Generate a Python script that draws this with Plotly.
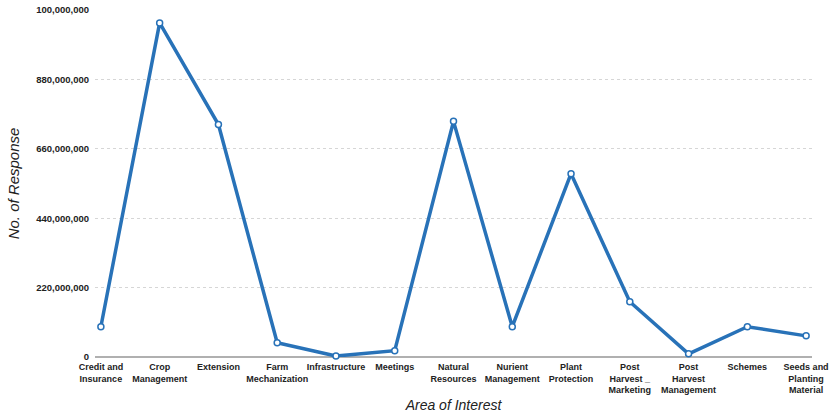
import plotly.graph_objects as go

categories = [
    "Credit and<br>Insurance", "Crop<br>Management", "Extension", "Farm<br>Mechanization",
    "Infrastructure", "Meetings", "Natural<br>Resources", "Nurient<br>Management",
    "Plant<br>Protection", "Post<br>Harvest _<br>Marketing", "Post<br>Harvest<br>Management",
    "Schemes", "Seeds and<br>Planting<br>Material",
]
responses = [96e6, 1059e6, 737e6, 45e6, 3e6, 20e6, 747e6, 96e6, 581e6, 175e6, 10e6, 96e6, 67e6]
tick_values = [0, 220e6, 440e6, 660e6, 880e6, 1100e6]
tick_labels = ["0", "220,000,000", "440,000,000", "660,000,000", "880,000,000", "100,000,000"]

x_idx = list(range(len(categories)))

fig = go.Figure(go.Scatter(
    x=x_idx, y=responses, mode="lines+markers",
    line=dict(color="#2872b8", width=3.5),
    marker=dict(size=6, color="white", line=dict(color="#2872b8", width=1.5)),
    cliponaxis=False,
))

fig.update_layout(
    width=834, height=417,
    margin=dict(l=95, r=22, t=10, b=60),
    paper_bgcolor="white", plot_bgcolor="white",
    showlegend=False,
    font=dict(family="Liberation Sans, Arial, sans-serif", color="#222"),
)
fig.update_xaxes(
    range=[-0.1, 12.1], tickmode="array", tickvals=x_idx, ticktext=categories,
    tickfont=dict(size=9, color="#222", weight="bold"), tickangle=0, ticklabelstandoff=3,
    showgrid=False, showline=False, zeroline=False, ticks="", automargin=False,
    title=dict(text="<i>Area of Interest</i>", font=dict(size=14, color="#222"), standoff=5),
)
fig.update_yaxes(
    range=[0, 1100e6], tickmode="array", tickvals=tick_values, ticktext=tick_labels,
    tickfont=dict(size=9.5, color="#222", weight="bold"), ticklabelstandoff=5,
    showgrid=True, gridcolor="#d6d6d6", griddash="dot", gridwidth=1,
    zeroline=True, zerolinecolor="#b0b0b0", zerolinewidth=1.5,
    showline=False, ticks="", automargin=False,
    title=dict(text="<i>No. of Response</i>", font=dict(size=15, color="#222"), standoff=12),
)

fig.write_html(
    "out.html",
    config={"displayModeBar": False},
    post_script="document.body.style.margin='0';document.body.style.padding='0';",
)
